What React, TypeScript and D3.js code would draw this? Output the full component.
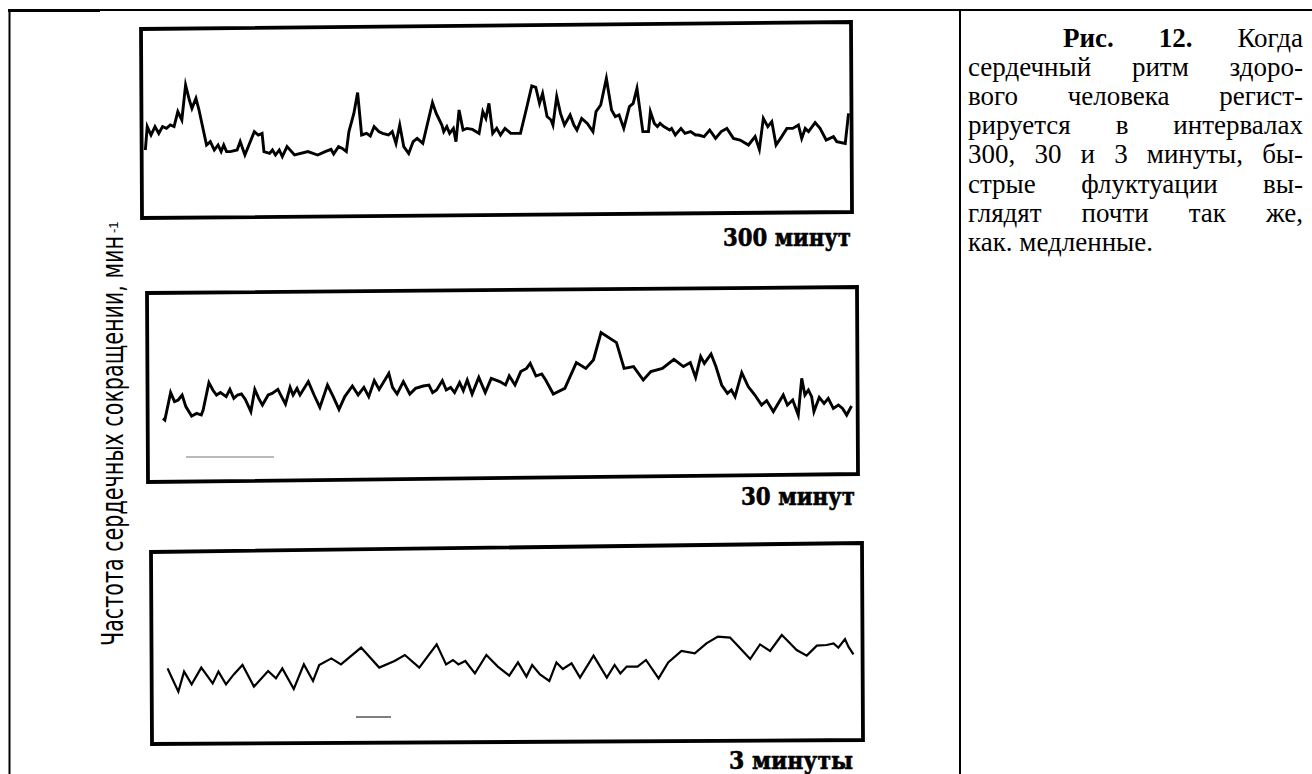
import { useMemo } from 'react'
import * as d3 from 'd3'

// [minute, beats per minute]
const series300: [number, number][] = [
  [1, 60], [1.8, 71.7], [3.4, 67.5], [5.1, 71.7], [6.7, 68.3], [8.3, 71.7], [10, 70.8], [11.6, 72.5], [13.2, 71.7],
  [14.8, 79.2], [16.5, 75], [18.1, 92.5], [19.7, 85], [20.8, 80.8], [22.5, 85.8], [23.8, 80], [27, 62.5], [28.6, 64.2],
  [30.3, 60], [31.9, 62.5], [33.2, 59.2], [34.3, 62.5], [35.5, 59.2], [37.1, 59.2], [40, 60], [41.3, 64.2], [43.3, 57.5],
  [47.3, 69.2], [49, 67.5], [50.6, 68.3], [51.4, 59.2], [53.8, 58.3], [55, 60], [56.3, 57.5], [57.9, 60], [59.2, 56.7],
  [61.2, 61.7], [64.4, 57.5], [70.1, 59.2], [74.2, 57.5], [77.4, 59.2], [79.9, 60.3], [81, 58], [83.1, 61.7], [84.7, 60.8],
  [86.4, 59.2], [87.5, 69.2], [89.6, 78.3], [91.2, 88.7], [92.9, 67.5], [95, 68.3], [96.6, 67], [98.2, 71.7], [100.2, 69.2],
  [101.8, 68.3], [104.3, 67.5], [105.9, 69.2], [107.5, 63.3], [109.1, 72.5], [110.8, 61.7], [112.9, 58.3], [114.8, 64.2],
  [116.5, 65.8], [118.9, 63.3], [123, 83.7], [124.6, 78.3], [127, 72.5], [127.8, 69.2], [129.1, 71.7], [130.3, 68.3],
  [131.9, 70.8], [133, 64.2], [134.3, 80], [136, 70], [137.6, 70.8], [140, 70.3], [142.8, 68.3], [144.4, 79.2], [145.7, 75.8],
  [147, 83.3], [148.6, 68.3], [150.3, 70.8], [151.9, 67.5], [153.8, 70.8], [156.3, 68.3], [160.4, 68.3], [162.8, 80],
  [165.2, 92], [166.9, 91.3], [168.5, 83.3], [169.8, 88.3], [171.7, 76.7], [173.4, 75], [174.2, 72.5], [175.8, 86.7],
  [177.4, 78.3], [179.1, 72.5], [181.5, 77.5], [183.1, 72.5], [184.4, 70], [186.4, 75.8], [188.8, 73.3], [191.2, 69.2],
  [192.5, 79.2], [194.5, 82.5], [196.9, 95.8], [199.1, 80], [200.7, 76.7], [202.3, 77.5], [204.3, 70.8], [206.7, 81.7],
  [208.3, 83.3], [209.9, 90.8], [212.4, 69.2], [214.8, 69.2], [215.6, 79.2], [217.3, 73.3], [218.6, 71.7], [219.7, 73.3],
  [221.3, 71.7], [223.8, 70], [224.6, 70.8], [226.2, 67.5], [228.6, 70.8], [230.3, 68.3], [232.7, 69.2], [234.8, 67.5],
  [236, 67.5], [238.4, 66.7], [240.8, 70], [243.3, 65.8], [245.7, 69.2], [248.1, 70.8], [250.9, 65.8], [253.7, 65],
  [257.3, 62.5], [260.1, 66.7], [261.9, 60.3], [263.6, 75.8], [265.5, 71.7], [267.2, 74.2], [269, 62.5], [271.4, 66.7],
  [273.6, 70.8], [276.1, 70.8], [278.5, 72.5], [279.9, 65.8], [281.4, 70.8], [282.8, 69.2], [285.6, 73.7], [287.7, 70.8],
  [290.3, 65], [293.4, 66.7], [294.8, 64.2], [298.4, 63.3], [299.8, 78.3],
]

const series30: [number, number][] = [
  [0.13, 70.8], [0.21, 70], [0.46, 83.7], [0.63, 79.2], [0.79, 80], [0.96, 82.5], [1.12, 76.7], [1.37, 72], [1.59, 73.3],
  [1.79, 72.5], [1.87, 75], [2.12, 88.7], [2.29, 85], [2.45, 82.5], [2.62, 83.7], [2.87, 81.7], [3.03, 85.3], [3.2, 80.8],
  [3.36, 82.5], [3.53, 83], [3.7, 80.3], [3.94, 74.2], [4.11, 85.3], [4.28, 80.8], [4.44, 77.5], [4.69, 82.5], [4.86, 83.3],
  [5.11, 85.3], [5.27, 81.7], [5.44, 78], [5.64, 86.3], [5.77, 82.5], [5.94, 85.8], [6.07, 82.5], [6.43, 89.2], [6.68, 82.5],
  [6.93, 76.3], [7.26, 87.5], [7.51, 81.7], [7.76, 75.3], [8.01, 81.7], [8.34, 87], [8.59, 82.5], [8.84, 86.3], [9.05, 81.7],
  [9.29, 89.7], [9.5, 85.3], [9.92, 93.3], [10.08, 86.3], [10.28, 83], [10.55, 89.2], [10.83, 83], [11.08, 85.8], [11.41, 87],
  [11.66, 87.5], [11.82, 83.7], [11.99, 85], [12.24, 89.7], [12.41, 85], [12.6, 86.3], [12.77, 83.7], [12.99, 88.7],
  [13.15, 84.7], [13.32, 90], [13.53, 83], [13.82, 91.3], [14.1, 83.7], [14.36, 90.8], [14.73, 89.2], [14.98, 87.5],
  [15.14, 92], [15.39, 87.5], [15.64, 94.2], [15.89, 95.8], [16.05, 98.3], [16.3, 92], [16.55, 93], [16.72, 90], [17.05, 83],
  [17.55, 85.8], [18.05, 98.7], [18.46, 95.8], [18.79, 100], [19.12, 113.7], [19.79, 108.7], [20.12, 95.8], [20.53, 96.7],
  [20.95, 90], [21.28, 94.2], [21.78, 95.8], [22.28, 100.3], [22.69, 96.7], [22.99, 98.7], [23.22, 91.3], [23.44, 101.7],
  [23.6, 98.3], [23.89, 103], [24.1, 96.7], [24.35, 87.5], [24.6, 83.3], [24.77, 85], [24.93, 81.7], [25.22, 93.7],
  [25.5, 86.7], [25.79, 82.5], [26.08, 77.5], [26.3, 79.7], [26.59, 74.2], [27.02, 82.5], [27.2, 77.5], [27.43, 80],
  [27.67, 72.5], [27.82, 90.8], [27.96, 82.5], [28.11, 85], [28.25, 81.7], [28.35, 74.2], [28.58, 81.3], [28.79, 78.3],
  [28.97, 80.8], [29.19, 75.8], [29.41, 77.5], [29.59, 75.8], [29.77, 72.5], [29.98, 77],
]

const series3: [number, number][] = [
  [0.007, 58.3], [0.02, 55], [0.054, 46.7], [0.079, 56.7], [0.112, 50.3], [0.154, 58.7], [0.204, 50.8], [0.229, 56.7],
  [0.262, 50.3], [0.296, 55.3], [0.334, 60], [0.384, 49.2], [0.446, 57], [0.48, 53.3], [0.508, 58.3], [0.558, 48],
  [0.602, 60.3], [0.642, 52], [0.669, 60], [0.722, 63.3], [0.764, 60.3], [0.852, 68.7], [0.931, 58.7], [0.998, 62],
  [1.043, 65], [1.106, 58.7], [1.182, 70.3], [1.223, 60.3], [1.253, 62.5], [1.277, 60.3], [1.307, 62], [1.349, 55.8],
  [1.399, 65], [1.449, 59.2], [1.499, 54.7], [1.537, 61.3], [1.574, 54.2], [1.599, 60], [1.633, 55.3], [1.674, 52],
  [1.705, 61.3], [1.733, 58], [1.771, 60.8], [1.808, 53.7], [1.867, 64.7], [1.925, 53.7], [1.959, 60], [1.984, 55.8],
  [2.012, 59.2], [2.059, 59.2], [2.096, 62.5], [2.151, 53.3], [2.193, 61.3], [2.251, 67], [2.309, 65.8], [2.36, 70.8],
  [2.41, 74.2], [2.463, 73.7], [2.5, 69.2], [2.551, 63], [2.594, 70.3], [2.638, 67], [2.689, 75], [2.711, 72.5],
  [2.754, 67.5], [2.798, 64.7], [2.842, 69.7], [2.885, 70], [2.915, 70.8], [2.936, 68.7], [2.965, 73], [2.98, 69.2],
  [3.002, 65.3],
]

const panelLabels = ['300 минут', '30 минут', '3 минуты']
const spanMinutes = [300, 30, 3]
const yAxisLabel = 'Частота сердечных сокращении, мин'

const captionLines = [
  'Рис. 12. Когда',
  'сердечный ритм здоро-',
  'вого человека регист-',
  'рируется в интервалах',
  '300, 30 и 3 минуты, бы-',
  'стрые флуктуации вы-',
  'глядят почти так же,',
  'как. медленные.',
]
const captionBold = ['Рис.', '12.']

const CAPTION_SIZE = 27
const CAPTION_FONT = '"Liberation Serif", "Times New Roman", serif'

// scanned frames are slightly rotated, so each box has its own corners
const panels = [
  {
    data: series300, xRange: [143, 849], yDomain: [27.5, 123], yRange: [215, 24], width: 2.9,
    box: [[141, 29], [851, 22], [852, 212], [142, 218]], labelX: 851, labelY: 246, labelW: 128,
  },
  {
    data: series30, xRange: [160, 852], yDomain: [40, 133], yRange: [480, 294], width: 2.9,
    box: [[147, 293], [857, 287], [858, 474], [148, 482]], labelX: 855, labelY: 505, labelW: 114,
  },
  {
    data: series3, xRange: [166, 853], yDomain: [21, 118.5], yRange: [743, 548], width: 2.2,
    box: [[151, 552], [862, 543], [863, 740], [152, 744]], labelX: 853, labelY: 769, labelW: 124,
  },
]

function Panel({ idx }: { idx: number }) {
  const p = panels[idx]
  const x = d3.scaleLinear().domain([0, spanMinutes[idx]]).range(p.xRange)
  const y = d3.scaleLinear().domain(p.yDomain).range(p.yRange)
  const line = d3.line<[number, number]>().x(d => x(d[0])).y(d => y(d[1]))
  return (
    <g>
      <polygon points={p.box.map(c => c.join(',')).join(' ')} fill="none" stroke="#000" strokeWidth={3.8} strokeLinejoin="miter" />
      <path d={line(p.data) ?? ''} fill="none" stroke="#000" strokeWidth={p.width} strokeLinejoin="miter" strokeMiterlimit={6} />
      <text x={p.labelX - p.labelW} y={p.labelY} textLength={p.labelW} lengthAdjust="spacingAndGlyphs"
        fontFamily='"DejaVu Serif", serif' fontWeight="bold" fontSize={24} fill="#000" stroke="#000" strokeWidth={0.6}>
        {panelLabels[idx]}
      </text>
    </g>
  )
}

export default function App() {
  const caption = useMemo(() => {
    const ctx = document.createElement('canvas').getContext('2d')!
    const measure = (w: string, bold: boolean) => {
      ctx.font = `${bold ? 'bold ' : ''}${CAPTION_SIZE}px ${CAPTION_FONT}`
      return ctx.measureText(w).width
    }
    const space = measure(' ', false)
    const out: { word: string; x: number; y: number; bold: boolean }[] = []
    captionLines.forEach((ln, i) => {
      const words = ln.split(' ')
      const left = i === 0 ? 1063 : 968
      const right = 1303
      const bolds = words.map((w, k) => i === 0 && k < captionBold.length && captionBold.includes(w))
      const widths = words.map((w, k) => measure(w, bolds[k]))
      const total = d3.sum(widths)
      const last = i === captionLines.length - 1
      let gap = last || words.length < 2 ? space : (right - left - total) / (words.length - 1)
      gap = Math.max(gap, 3)
      let cx = left
      words.forEach((w, k) => {
        out.push({ word: w, x: cx, y: 47 + i * 29.1, bold: bolds[k] })
        cx += widths[k] + gap
      })
    })
    return out
  }, [])

  return (
    <svg width={1312} height={774} style={{ position: 'absolute', left: 0, top: 0, background: '#fff' }}>
      <rect width={1312} height={774} fill="#fff" />
      {/* table rules */}
      <line x1={8} x2={1312} y1={10} y2={10} stroke="#000" strokeWidth={2} />
      <line x1={8} x2={100} y1={10.5} y2={10.5} stroke="#000" strokeWidth={3} />
      <line x1={9.5} x2={9.5} y1={9} y2={774} stroke="#000" strokeWidth={2} />
      <line x1={960} x2={960} y1={9} y2={774} stroke="#000" strokeWidth={2} />

      {panels.map((_, i) => <Panel key={i} idx={i} />)}

      {/* faint scan marks */}
      <line x1={186} x2={274} y1={457} y2={457} stroke="#777" strokeWidth={1.2} />
      <line x1={356} x2={391} y1={717} y2={717} stroke="#555" strokeWidth={1.5} />

      <text transform="translate(123,646) rotate(-90)" fontFamily='"Liberation Sans Narrow", "DejaVu Sans Condensed", sans-serif'
        fontSize={31} textLength={410} lengthAdjust="spacingAndGlyphs" fill="#000">{yAxisLabel}</text>
      <text transform="translate(118,233) rotate(-90)" fontFamily='"Liberation Sans Narrow", sans-serif' fontSize={13} fill="#000">-1</text>

      {caption.map((c, i) => (
        <text key={i} x={c.x} y={c.y} fontFamily={CAPTION_FONT} fontSize={CAPTION_SIZE} fontWeight={c.bold ? 'bold' : 'normal'} fill="#000">
          {c.word}
        </text>
      ))}
    </svg>
  )
}
